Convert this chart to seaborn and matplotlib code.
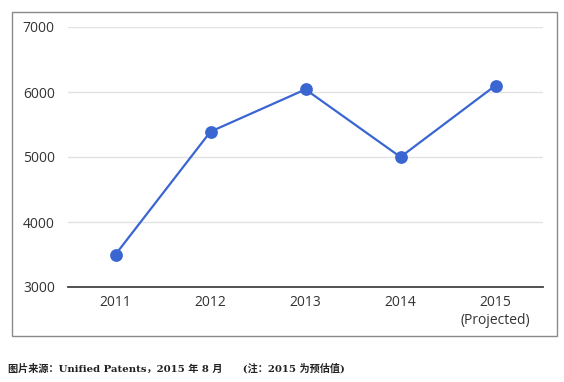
import matplotlib
matplotlib.use("Agg")
import matplotlib.pyplot as plt
import seaborn as sns
import pandas as pd
from matplotlib.patches import Rectangle

years = ["2011", "2012", "2013", "2014", "2015\n(Projected)"]
values = [3500, 5390, 6040, 5000, 6100]
yticks = [3000, 4000, 5000, 6000, 7000]
caption = "图片来源：Unified Patents，2015 年 8 月　　(注：2015 为预估值)"

df = pd.DataFrame({"year": years, "value": values})

sns.set_theme(style="white")
plt.rcParams["font.family"] = ["Open Sans", "DejaVu Sans"]

W, H = 564, 382
fig = plt.figure(figsize=(W / 100, H / 100), dpi=100)
ax = fig.add_axes([68 / W, 1 - 287 / H, (543 - 68) / W, (287 - 27) / H])

sns.lineplot(data=df, x="year", y="value", ax=ax, color="#3a66d2",
             linewidth=1.6, marker="o", markersize=9.2,
             markeredgewidth=0, sort=False)

ax.set_xlim(-0.5, len(years) - 0.5)
ax.set_ylim(3000, 7000)
ax.set_yticks(yticks)
ax.set_yticklabels([str(v) for v in yticks])
ax.set_xlabel("")
ax.set_ylabel("")
ax.grid(axis="y", color="#e2e2e2", linewidth=1.0)
ax.set_axisbelow(True)
for s in ["top", "right", "left"]:
    ax.spines[s].set_visible(False)
ax.spines["bottom"].set_color("#444444")
ax.spines["bottom"].set_linewidth(1.3)
ax.tick_params(axis="both", length=0, labelsize=10, labelcolor="#333333")
ax.tick_params(axis="y", pad=9.5)
ax.tick_params(axis="x", pad=6)
for lbl in ax.get_yticklabels():
    lbl.set_horizontalalignment("right")

# outer frame
fig.patches.append(Rectangle((12 / W, 1 - 336 / H), (557 - 12) / W, (336 - 12) / H,
                             transform=fig.transFigure, fill=False,
                             edgecolor="#8a8a8a", linewidth=1.0))

fig.text(8 / W, 1 - 368 / H, caption, fontsize=7.3, fontweight="bold",
         color="#222222", va="center", ha="left",
         family=["DejaVu Serif", "Noto Sans CJK SC"])

fig.savefig("out.png", dpi=100)
